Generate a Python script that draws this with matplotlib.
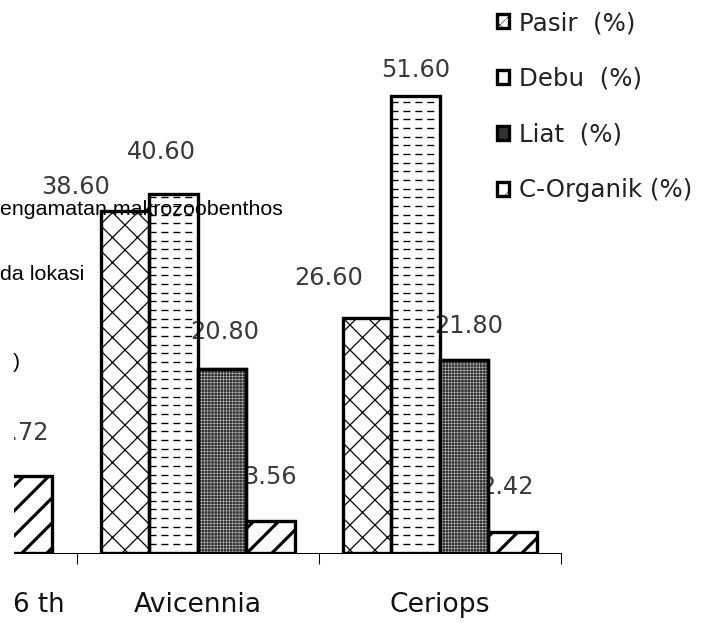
import numpy as np
import matplotlib
matplotlib.use("Agg")
import matplotlib.pyplot as plt
from matplotlib.transforms import blended_transform_factory

# data (first group is cut off, only C-Organik visible)
categories = ["6 th", "Avicennia", "Ceriops"]
series = ["Pasir  (%)", "Debu  (%)", "Liat  (%)", "C-Organik (%)"]
pasir = [np.nan, 38.60, 26.60]
debu = [np.nan, 40.60, 51.60]
liat = [np.nan, 20.80, 21.80]
corganik = [8.72, 3.56, 2.42]

# label offsets (pixels) from bar top centre, as placed in the original
lab_dx = [[0, -49, -39], [0, -12, 0], [0, 3, 5], [-6, 0, -6]]
lab_dy = [[0, 24, 40], [0, 42, 26], [0, 37, 34], [43, 44, 45]]

DPI = 75
fig = plt.figure(figsize=(711 / DPI, 623 / DPI), dpi=DPI)
W, H = 711.0, 623.0
pitch = 242.0          # px per category
base = 553.0           # px of baseline from top
ppu = 8.85             # px per percent
ax = fig.add_axes([14 / W, (H - base) / H, (561 - 14) / W, base / H])
ax.set_xlim(1 - (197.5 - 14) / pitch, 2.5)
ax.set_ylim(0, base / ppu)

x = np.arange(len(categories))
bw = 0.2
offs = [-0.3, -0.1, 0.1, 0.3]
values = [pasir, debu, liat, corganik]
EDGE = 3.2


def bars(i, hlw, **kw):
    v = np.array(values[i], dtype=float)
    ok = ~np.isnan(v)
    plt.rcParams["hatch.linewidth"] = hlw
    bc = ax.bar(x[ok] + offs[i], v[ok], bw, zorder=3, edgecolor="black",
                linewidth=EDGE, **kw)
    for p in bc:
        if hasattr(p, "set_hatch_linewidth"):
            p.set_hatch_linewidth(hlw)
    return bc


b_pasir = bars(0, 1.2, facecolor="white", hatch="x", label=series[0])
b_debu = bars(1, 1.0, facecolor="none", label=series[1])
b_liat = bars(2, 1.0, facecolor="#333333", label=series[2])
b_corg = bars(3, 3.0, facecolor="white", hatch="/", label=series[3])

# fine light grid over the Liat bars
plt.rcParams["hatch.linewidth"] = 0.45
for p in b_liat:
    g = ax.bar(p.get_x() + p.get_width() / 2, p.get_height(), bw, fill=False,
               edgecolor="#d0d0d0", linewidth=0, hatch="++++", zorder=3.1)
    if hasattr(g[0], "set_hatch_linewidth"):
        g[0].set_hatch_linewidth(0.45)
    ax.bar(p.get_x() + p.get_width() / 2, p.get_height(), bw, fill=False,
           edgecolor="black", linewidth=EDGE, zorder=3.2)

# dashed rows inside the Debu bars
for p in b_debu:
    rows = np.arange(1, p.get_height(), 0.98)
    lc = ax.hlines(rows, p.get_x(), p.get_x() + p.get_width(), colors="black",
                   linewidth=1.3, linestyles=(0, (5.2, 3.6)), zorder=2.9)
    lc.set_clip_path(p)

# value labels (under the bars, like the original)
for i, bc in enumerate([b_pasir, b_debu, b_liat, b_corg]):
    v = np.array(values[i], dtype=float)
    idx = np.where(~np.isnan(v))[0]
    for p, j in zip(bc, idx):
        ax.annotate(f"{v[j]:.2f}", (p.get_x() + p.get_width() / 2, p.get_height()),
                    xytext=(lab_dx[i][j], lab_dy[i][j]), textcoords="offset pixels",
                    ha="center", va="center", fontsize=23, color="#3a3a3a",
                    zorder=2, annotation_clip=False, clip_on=True)

# axis
for s in ["top", "left", "right"]:
    ax.spines[s].set_visible(False)
ax.spines["bottom"].set_linewidth(1.0)
ax.set_yticks([])
ax.set_xticks([])
ax.set_xticks(np.arange(len(categories)) + 0.5, minor=True)
ax.tick_params(axis="x", which="minor", direction="out", length=11, width=1)
ax.set_xticklabels([], minor=True)

trans = blended_transform_factory(ax.transData, fig.transFigure)
ylab = 1 - 605 / H
for j, c in enumerate(categories):
    if j == 0:
        ax.annotate(c, (j + 0.5, ylab), xycoords=trans, xytext=(-12, 0),
                    textcoords="offset pixels", ha="right", va="center",
                    fontsize=25, color="#111111")
    else:
        ax.text(j, ylab, c, transform=trans, ha="center", va="center",
                fontsize=25.5, color="#111111")

# legend
fig.legend(handles=[b_pasir, b_debu, b_liat, b_corg], labels=series,
           loc="upper left", bbox_to_anchor=(497 / W, 1 - 11 / H),
           frameon=False, fontsize=23.5, handlelength=0.5, handleheight=0.5,
           handletextpad=0.4, labelspacing=1.3, borderpad=0, borderaxespad=0,
           labelcolor="#222222")

# stray text from the page behind the chart
fig.text(0, 1 - 209 / H, "engamatan makrozoobenthos", fontsize=20.5,
         family="Liberation Sans", va="center", ha="left", zorder=10)
fig.text(0, 1 - 274 / H, "da lokasi", fontsize=20.5,
         family="Liberation Sans", va="center", ha="left", zorder=10)
fig.text(13 / W, 1 - 362 / H, ")", fontsize=20.5,
         family="Liberation Sans", va="center", ha="left", zorder=10)

fig.savefig("out.png", dpi=DPI)
